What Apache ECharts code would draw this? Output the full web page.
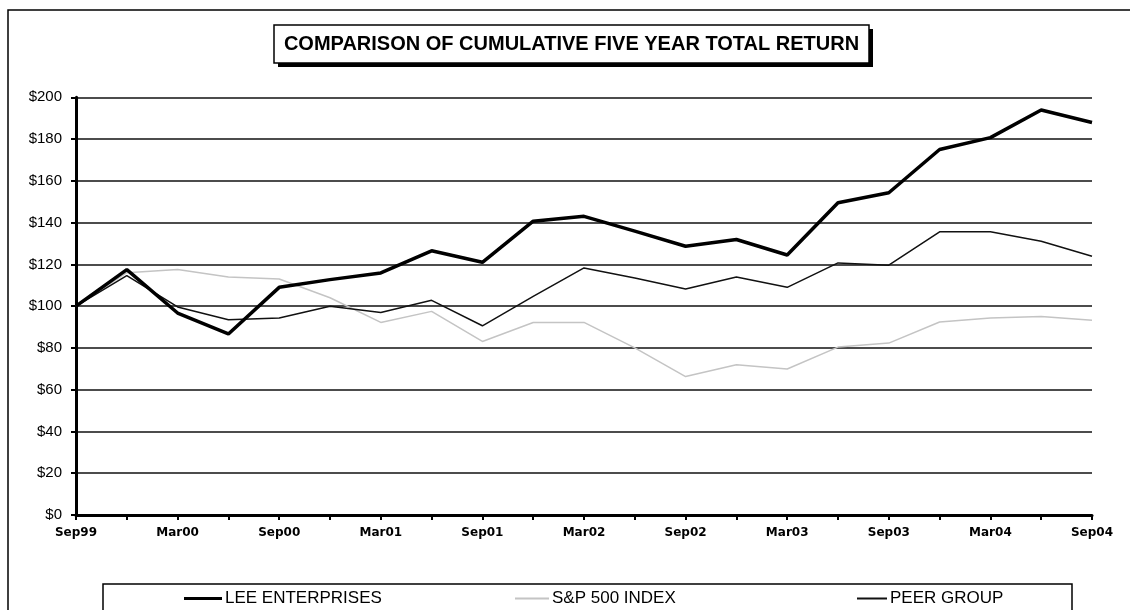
<!DOCTYPE html>
<html>
<head>
<meta charset="utf-8">
<script src="https://cdn.jsdelivr.net/npm/echarts@6/dist/echarts.min.js"></script>
<style>
  html, body { margin: 0; padding: 0; background: #fff; }
  #chart { width: 1130px; height: 610px; }
</style>
</head>
<body>
<div id="chart"></div>
<script>
// quarters Sep99 .. Sep04
var quarters = ['Sep99', 'Dec99', 'Mar00', 'Jun00', 'Sep00', 'Dec00', 'Mar01', 'Jun01',
  'Sep01', 'Dec01', 'Mar02', 'Jun02', 'Sep02', 'Dec02', 'Mar03', 'Jun03',
  'Sep03', 'Dec03', 'Mar04', 'Jun04', 'Sep04'];

var leeValues = [100, 117.5, 96.7, 86.7, 109, 112.7, 115.9, 126.5, 121, 140.7, 143,
  135.9, 128.7, 131.9, 124.5, 149.5, 154.3, 175, 180.7, 193.9, 187.9];
var spValues = [100, 116, 117.5, 114, 113, 104, 92.2, 97.5, 83.1, 92.2, 92.2,
  80, 66.3, 71.9, 69.9, 80.4, 82.3, 92.4, 94.3, 95.1, 93.2];
var peerValues = [100, 114.6, 99.6, 93.5, 94.3, 100, 97, 102.8, 90.6, 104.7, 118.3,
  113.5, 108.2, 114, 109, 120.7, 119.6, 135.6, 135.6, 131.1, 123.9];

var seriesNames = ['LEE ENTERPRISES', 'S&P 500 INDEX', 'PEER GROUP'];
var titleText = 'COMPARISON OF CUMULATIVE FIVE YEAR TOTAL RETURN';

var myChart = echarts.init(document.getElementById('chart'));

function oneLegend(name, left, w, h) {
  return {
    data: [name],
    left: left,
    top: 590,
    padding: 0,
    icon: 'rect',
    itemWidth: w,
    itemHeight: h,
    itemGap: 0,
    selectedMode: false,
    textStyle: { fontFamily: 'Liberation Sans', fontSize: 17, color: '#000', padding: [0, 0, 0, -2] }
  };
}

var option = {
  animation: false,
  backgroundColor: '#fff',
  grid: { left: 76, right: 38, top: 97.3, bottom: 95 },
  graphic: [
    // outer frame
    { type: 'rect', shape: { x: 8, y: 10, width: 1140, height: 640 },
      style: { fill: 'none', stroke: '#000', lineWidth: 1.5 }, silent: true },
    // title box with shadow
    { type: 'rect', shape: { x: 278, y: 29, width: 595, height: 38 },
      style: { fill: '#000' }, silent: true },
    { type: 'rect', shape: { x: 274, y: 25, width: 595, height: 38 },
      style: { fill: '#fff', stroke: '#000', lineWidth: 1.5 }, silent: true },
    { type: 'text', x: 571.5, y: 44,
      style: { text: titleText, fill: '#000', fontFamily: 'Liberation Sans', fontWeight: 'bold',
        fontSize: 20, align: 'center', verticalAlign: 'middle' }, silent: true },
    // legend box
    { type: 'rect', shape: { x: 103, y: 584, width: 969, height: 60 },
      style: { fill: 'none', stroke: '#000', lineWidth: 1.5 }, silent: true }
  ],
  legend: [
    oneLegend(seriesNames[0], 184, 38, 3),
    oneLegend(seriesNames[1], 515, 34, 2),
    oneLegend(seriesNames[2], 857, 30, 2)
  ],
  xAxis: {
    type: 'category',
    data: quarters,
    boundaryGap: false,
    axisLine: { lineStyle: { color: '#000', width: 3 } },
    axisTick: { show: true, interval: 0, length: 5, lineStyle: { color: '#000', width: 2 } },
    axisLabel: {
      interval: 1,
      margin: 12,
      color: '#000',
      fontFamily: 'DejaVu Sans',
      fontWeight: 'bold',
      fontSize: 12
    },
    splitLine: { show: false }
  },
  yAxis: {
    type: 'value',
    min: 0,
    max: 200,
    interval: 20,
    axisLine: { show: true, lineStyle: { color: '#000', width: 3 } },
    axisTick: { show: true, length: 5, lineStyle: { color: '#000', width: 2 } },
    axisLabel: {
      margin: 14,
      color: '#000',
      fontFamily: 'Liberation Sans',
      fontSize: 15,
      formatter: '${value}'
    },
    splitLine: { lineStyle: { color: '#111', width: 1.5 } }
  },
  series: [
    {
      name: seriesNames[1],
      type: 'line',
      data: spValues,
      symbol: 'none',
      color: '#c4c4c4',
      lineStyle: { color: '#c4c4c4', width: 1.5 },
      z: 2
    },
    {
      name: seriesNames[2],
      type: 'line',
      data: peerValues,
      symbol: 'none',
      color: '#111',
      lineStyle: { color: '#111', width: 1.5 },
      z: 3
    },
    {
      name: seriesNames[0],
      type: 'line',
      data: leeValues,
      symbol: 'none',
      color: '#000',
      lineStyle: { color: '#000', width: 3.5 },
      z: 4
    }
  ]
};

myChart.setOption(option);
window.addEventListener('resize', function () {
  myChart.resize();
});
</script>
</body>
</html>
